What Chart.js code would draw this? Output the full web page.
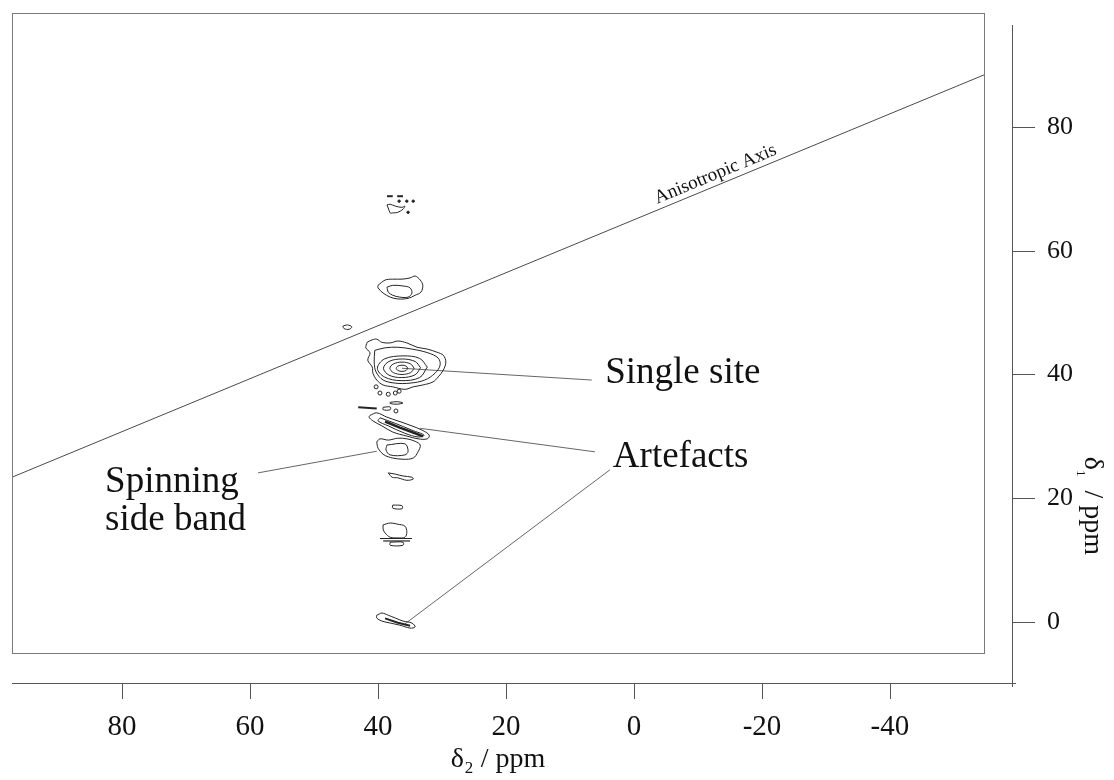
<!DOCTYPE html>
<html>
<head>
<meta charset="utf-8">
<script src="https://cdn.jsdelivr.net/npm/chart.js@4.4.1/dist/chart.umd.min.js"></script>
<style>
  html, body { margin: 0; padding: 0; background: #ffffff; }
  canvas { display: block; }
</style>
</head>
<body>
<canvas id="mat" width="1114" height="780"></canvas>
<script>
// Axis ranges and tick values (ppm)
const xRange = [-54.7, 97.2];
const yRange = [-5.0, 98.4];
const xTicks = [80, 60, 40, 20, 0, -20, -40];
const yTicks = [0, 20, 40, 60, 80];

// Anisotropic axis, pairs of [delta2, delta1]
const anisotropicAxis = [[97.2, 23.4], [-54.7, 88.4]];
const anisotropicLabelAt = [-13.4, 70.7];

// Contour outlines, pairs of [delta2, delta1]
const spotTopOutline = [[38.6,67.4],[38.1,67.5],[37.3,67.2],[36.25,67.0],[35.8,67.2],[36.1,66.7],[36.9,66.2],[37.7,66.1],[38.1,66.1],[38.4,66.9]];
const spotTopDashes = [[[38.6,68.8],[37.7,68.8]], [[37.0,68.8],[36.1,68.8]]];
const spotTopDots = [[36.7,68.0],[35.5,68.0],[34.5,68.0],[35.3,66.2]];

const spotUpperOuter = [[40.0,54.4],[38.9,55.25],[37.7,55.4],[36.25,55.4],[35.0,55.6],[34.2,55.9],[33.4,55.25],[33.0,54.4],[33.3,53.3],[34.2,52.8],[35.3,52.3],[36.9,52.2],[38.1,52.5],[39.2,53.15],[40.0,54.0]];
const spotUpperInner = [[38.6,54.1],[37.7,54.4],[36.1,54.3],[35.0,54.0],[34.7,53.15],[35.3,52.5],[36.6,52.5],[37.7,52.8],[38.4,53.3]];
const spotSmall = [[45.5,47.8],[44.8,48.0],[44.1,47.7],[44.5,47.3],[45.3,47.4]];

const singleSiteOuter = [[41.7,45.2],[40.9,45.6],[40.2,45.7],[39.4,45.2],[38.1,45.1],[36.9,45.4],[35.5,45.1],[33.9,44.4],[32.3,44.1],[30.8,43.6],[29.8,43.1],[29.4,42.0],[29.8,40.7],[30.6,39.6],[31.4,38.8],[33.0,38.3],[34.5,38.0],[35.8,37.6],[37.7,38.0],[39.2,38.3],[40.2,39.1],[40.8,40.2],[40.9,41.2],[41.6,42.3],[41.25,43.5],[41.9,44.3]];
const singleSiteMid = [[40.5,43.9],[38.9,44.3],[36.9,44.4],[34.7,44.1],[32.2,43.5],[30.6,42.65],[30.3,41.5],[31.1,40.2],[32.7,39.1],[35.0,38.6],[37.3,38.6],[39.2,39.1],[40.3,40.4],[40.6,42.0]];
const singleSiteRing4 = [[32.3,41.2],[33.5,42.6],[36.1,43.0],[39.0,42.5],[40.1,41.0],[39.0,39.6],[36.4,39.0],[33.5,39.5]];
const singleSiteRing3 = [[33.35,41.1],[34.2,42.1],[36.2,42.5],[38.3,42.1],[39.15,41.0],[38.3,39.9],[36.3,39.5],[34.2,39.95]];
const singleSiteRing2 = [[34.35,41.0],[34.9,41.7],[36.25,42.0],[37.6,41.7],[38.15,41.0],[37.6,40.3],[36.25,40.0],[34.9,40.3]];
const singleSiteRing1 = [[35.35,41.0],[35.6,41.35],[36.25,41.5],[36.9,41.35],[37.15,41.0],[36.9,40.65],[36.25,40.5],[35.6,40.65]];
const singleSiteSpecks = [[40.3,38.0],[39.7,37.0],[38.4,36.8],[37.3,37.0],[36.7,37.3],[37.2,34.1]];
const fragmentA = [[38.1,35.5],[37.0,35.6],[36.1,35.4],[37.0,35.2],[38.1,35.3]];
const fragmentB = [[39.2,34.7],[38.1,34.75],[38.1,34.3],[39.2,34.3]];
const fragmentStreak = [[43.1,34.7],[40.2,34.5]];

const artefactUpperOuter = [[41.25,33.4],[40.2,33.8],[38.6,33.1],[36.9,32.5],[35.0,31.8],[33.1,31.0],[32.0,30.2],[32.3,29.6],[33.75,29.6],[35.5,30.05],[37.7,30.7],[39.4,31.7],[40.8,32.5],[41.4,33.1]];
const artefactUpperInner = [[39.7,33.0],[37.3,32.1],[34.7,31.0],[32.8,30.2],[33.75,29.9],[35.8,30.5],[38.4,31.7],[40.0,32.5]];
const artefactUpperCore = [[38.9,32.4],[36.6,31.4],[34.2,30.5],[33.0,30.0]];

const sideBandOuter = [[40.2,29.1],[39.7,29.6],[38.4,29.4],[36.9,29.7],[35.5,29.6],[34.2,29.2],[33.4,28.6],[33.75,27.5],[34.5,26.5],[36.1,26.3],[37.7,26.5],[38.4,26.7],[39.2,27.1],[40.0,28.1]];
const sideBandInner = [[38.6,28.6],[35.8,28.8],[35.3,27.6],[35.8,27.0],[38.1,27.0],[38.75,27.8]];

const spotMidA = [[38.4,24.1],[37.3,23.9],[36.1,23.6],[34.7,23.4],[34.5,23.1],[35.5,22.9],[36.9,23.3],[37.8,23.4]];
const spotMidB = [[37.7,18.9],[36.25,18.8],[36.25,18.3],[37.7,18.4]];
const spotLowerOuter = [[39.2,15.7],[38.1,16.0],[36.9,15.8],[35.8,15.5],[35.5,14.5],[35.8,13.7],[36.9,13.6],[38.1,13.7],[38.9,14.4],[39.2,15.0]];
const spotLowerStripes = [[[39.7,13.5],[34.7,13.5]], [[39.2,13.1],[35.0,13.1]]];
const spotLowerSmall = [[38.1,12.9],[36.1,12.9],[36.1,12.4],[38.1,12.4]];

const artefactLowerOuter = [[40.2,1.1],[39.4,1.45],[38.4,1.1],[37.3,0.65],[36.1,0.16],[34.7,-0.16],[34.2,-0.8],[35.0,-0.97],[36.6,-0.5],[38.1,-0.16],[39.4,0.16],[40.2,0.65]];
const artefactLowerCore = [[38.9,0.6],[36.9,-0.1],[35.0,-0.6]];

// Leader lines from features to their notes
const leaderLines = [
  [[36.25, 41.0], [6.6, 39.1]],
  [[33.4, 31.3], [6.1, 27.5]],
  [[35.8, -0.3], [3.75, 24.6]],
  [[58.75, 24.1], [40.2, 27.6]]
];
const noteTexts = ['Single site', 'Artefacts', 'Spinning', 'side band'];
const noteAnchors = [[4.5, 38.6], [3.3, 25.05], [82.65, 21.0], [82.65, 14.9]];

const INK = '#242424';
const SERIF = '"Liberation Serif", "Times New Roman", serif';

const pts = arr => arr.map(([a, b]) => ({ x: a, y: b }));
const loop = arr => pts(arr.concat([arr[0]]));

function outline(arr, width) {
  return { data: loop(arr), showLine: true, borderColor: INK, borderWidth: width || 1,
           pointRadius: 0, tension: 0.35, fill: false };
}
function segment(arr, width, color) {
  return { data: pts(arr), showLine: true, borderColor: color || INK, borderWidth: width || 1,
           pointRadius: 0, tension: 0, fill: false };
}
function specks(arr, r, solid) {
  return { data: pts(arr), showLine: false, pointRadius: r, pointStyle: 'circle',
           pointBorderColor: INK, pointBorderWidth: 1,
           pointBackgroundColor: solid ? INK : 'rgba(0,0,0,0)' };
}

const datasets = [
  segment(anisotropicAxis, 1, '#4a4a4a'),
  outline(spotTopOutline),
  ...spotTopDashes.map(d => segment(d, 2)),
  specks(spotTopDots, 1.2, true),
  outline(spotUpperOuter),
  outline(spotUpperInner),
  outline(spotSmall),
  outline(singleSiteOuter),
  outline(singleSiteMid),
  outline(singleSiteRing4),
  outline(singleSiteRing3),
  outline(singleSiteRing2),
  outline(singleSiteRing1),
  specks(singleSiteSpecks, 2, false),
  outline(fragmentA),
  outline(fragmentB),
  segment(fragmentStreak, 2),
  outline(artefactUpperOuter),
  outline(artefactUpperInner),
  segment(artefactUpperCore, 2.5),
  outline(sideBandOuter),
  outline(sideBandInner),
  outline(spotMidA),
  outline(spotMidB),
  outline(spotLowerOuter),
  ...spotLowerStripes.map(d => segment(d, 1.2)),
  outline(spotLowerSmall),
  outline(artefactLowerOuter),
  segment(artefactLowerCore, 2),
  ...leaderLines.map(d => segment(d, 0.9, '#555555'))
];

// Detached axes, plot frame and the text notes
const framePlugin = {
  id: 'frameAndNotes',
  afterDraw(chart) {
    const { ctx, chartArea: a, scales: { x, y } } = chart;
    ctx.save();

    // plot frame
    ctx.strokeStyle = '#7a7a7a';
    ctx.lineWidth = 1;
    ctx.strokeRect(a.left + 0.5, a.top + 0.5, a.right - a.left, a.bottom - a.top);

    // detached axis lines with outward ticks
    const axisY = a.bottom + 30;
    const axisX = a.right + 28;
    ctx.strokeStyle = '#555555';
    ctx.beginPath();
    ctx.moveTo(a.left, axisY + 0.5);
    ctx.lineTo(axisX + 4, axisY + 0.5);
    ctx.moveTo(axisX + 0.5, a.top + 12);
    ctx.lineTo(axisX + 0.5, axisY + 4);
    x.ticks.forEach(t => {
      const p = Math.round(x.getPixelForValue(t.value)) + 0.5;
      ctx.moveTo(p, axisY);
      ctx.lineTo(p, axisY + 16);
    });
    y.ticks.forEach(t => {
      const p = Math.round(y.getPixelForValue(t.value)) + 0.5;
      ctx.moveTo(axisX, p);
      ctx.lineTo(axisX + 23, p);
    });
    ctx.stroke();

    // right axis title, reading downwards
    ctx.fillStyle = '#111111';
    ctx.save();
    ctx.translate(a.right + 108, 506);
    ctx.rotate(Math.PI / 2);
    ctx.textBaseline = 'middle';
    ctx.font = '28px ' + SERIF;
    const d = 'δ', rest = '  / ppm';
    const subFont = '13px ' + SERIF;
    const wd = ctx.measureText(d).width;
    const wr = ctx.measureText(rest).width;
    ctx.font = subFont;
    const ws = ctx.measureText('1').width;
    const sx = -(wd + ws + wr) / 2;
    ctx.font = '28px ' + SERIF;
    ctx.fillText(d, sx, 0);
    ctx.font = subFont;
    ctx.fillText('1', sx + wd, 12);
    ctx.font = '28px ' + SERIF;
    ctx.fillText(rest, sx + wd + ws, 0);
    ctx.restore();

    // notes beside the features
    ctx.font = '37px ' + SERIF;
    ctx.textAlign = 'left';
    ctx.textBaseline = 'alphabetic';
    noteTexts.forEach((txt, i) => {
      const [u, v] = noteAnchors[i];
      ctx.fillText(txt, x.getPixelForValue(u), y.getPixelForValue(v));
    });

    // label along the anisotropic axis
    const p0x = x.getPixelForValue(anisotropicAxis[0][0]);
    const p0y = y.getPixelForValue(anisotropicAxis[0][1]);
    const p1x = x.getPixelForValue(anisotropicAxis[1][0]);
    const p1y = y.getPixelForValue(anisotropicAxis[1][1]);
    const ang = Math.atan2(p1y - p0y, p1x - p0x);
    ctx.save();
    ctx.translate(x.getPixelForValue(anisotropicLabelAt[0]), y.getPixelForValue(anisotropicLabelAt[1]));
    ctx.rotate(ang);
    ctx.font = '19px ' + SERIF;
    ctx.textAlign = 'center';
    ctx.fillText('Anisotropic Axis', 0, -6);
    ctx.restore();

    ctx.restore();
  }
};

new Chart(document.getElementById('mat'), {
  type: 'scatter',
  data: { datasets },
  options: {
    responsive: false,
    animation: false,
    events: [],
    layout: { padding: { left: 12, top: 13, right: 0, bottom: 0 } },
    plugins: { legend: { display: false }, tooltip: { enabled: false } },
    scales: {
      x: {
        type: 'linear',
        position: 'bottom',
        reverse: true,
        min: xRange[0],
        max: xRange[1],
        afterBuildTicks: s => { s.ticks = xTicks.map(v => ({ value: v })); },
        afterFit: s => { s.height = 127; },
        grid: { display: false },
        border: { display: false },
        ticks: { padding: 49, color: '#111111', font: { family: SERIF, size: 29 }, callback: v => String(v) },
        title: { display: true, text: 'δ₂ / ppm', color: '#111111',
                 font: { family: SERIF, size: 28 }, padding: { top: 0, bottom: 4 } }
      },
      y: {
        type: 'linear',
        position: 'right',
        min: yRange[0],
        max: yRange[1],
        afterBuildTicks: s => { s.ticks = yTicks.map(v => ({ value: v })); },
        afterFit: s => { s.width = 130; s.paddingTop = 0; s.paddingBottom = 0; },
        // invisible tick marks push the labels out past the detached axis line
        grid: { display: true, drawOnChartArea: false, drawTicks: true, tickLength: 59, tickColor: 'rgba(0,0,0,0)' },
        border: { display: false },
        ticks: { padding: 4, color: '#111111', font: { family: SERIF, size: 26 }, callback: v => String(v) }
      }
    }
  },
  plugins: [framePlugin]
});
</script>
</body>
</html>
